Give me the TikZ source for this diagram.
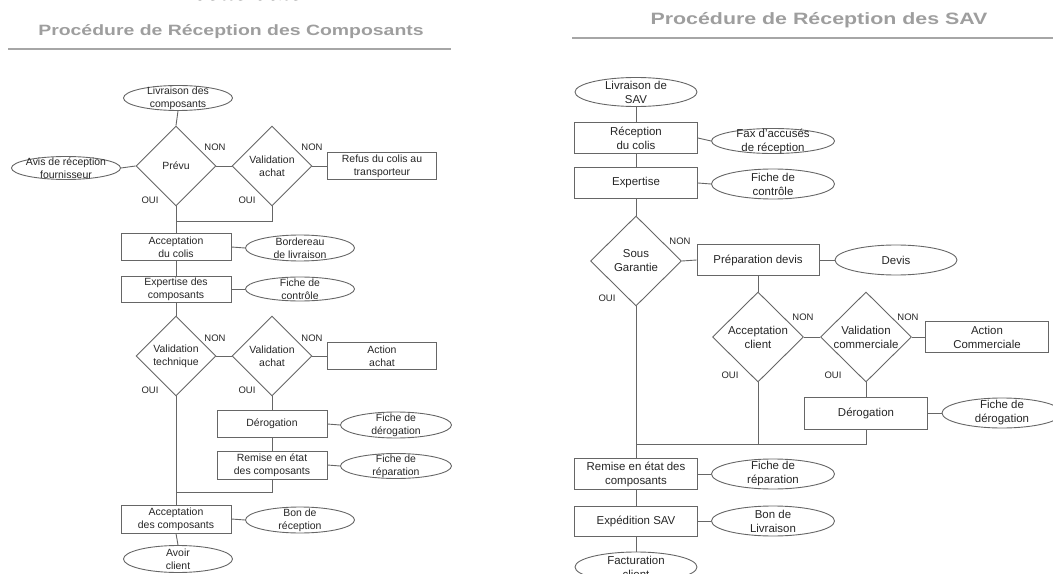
\documentclass[tikz,border=0pt]{standalone}
\usepackage{fontspec}
\setmainfont{Liberation Sans}
\usetikzlibrary{shapes.geometric}

\begin{document}
\begin{tikzpicture}[x=1bp, y=-1bp,
  every node/.style={font=\fontsize{10.5}{13}\selectfont, text=black!85, align=center, inner sep=0pt},
  lien/.style={draw=black!60, line width=0.9bp},
  boite/.style={rectangle, draw=black!60, line width=0.9bp, minimum width=110bp, minimum height=27bp},
  doc/.style={ellipse, draw=black!60, line width=0.9bp, minimum width=109bp, minimum height=25bp, label={center:#1}},
  choix/.style={diamond, draw=black!60, line width=0.9bp, minimum width=80bp, minimum height=80bp},
  rep/.style={font=\fontsize{9.5}{11}\selectfont},
  titre/.style={font=\bfseries\fontsize{15}{17}\selectfont, text=black!38, xscale=1.3, transform shape}]

  \useasboundingbox (0,0) rectangle (1053,574);

  \node[font=\fontsize{25}{28}\selectfont, text=black] (haut) at (255,-8) {cette date .};

  % composants
  \node[titre] (t1) at (231,32) {Procédure de Réception des Composants};
  \draw[black!35, line width=1.3bp] (8,49) -- (451,49);

  \node[doc={Livraison des\\composants}] (liv) at (178,98) {};
  \node[choix] (prevu) at (176,166) {Prévu};
  \node[doc={Avis de réception\\fournisseur}, minimum height=23bp] (avis) at (66,168) {};
  \node[choix] (valach) at (272,166) {Validation\\achat};
  \node[boite, minimum width=109bp] (refus) at (382,166) {Refus du colis au\\transporteur};
  \coordinate (j1) at (176,221);
  \node[boite] (acccolis) at (176,247) {Acceptation\\du colis};
  \node[doc={Bordereau\\de livraison}, minimum height=26bp] (bord) at (300,248) {};
  \node[boite, minimum height=26bp] (expcomp) at (176,289) {Expertise des\\composants};
  \node[doc={Fiche de\\contrôle}, minimum height=24bp] (fctrl) at (300,289) {};
  \node[choix] (valtech) at (176,356) {Validation\\technique};
  \node[choix] (valach2) at (272,356) {Validation\\achat};
  \node[boite, minimum width=109bp] (action) at (382,356) {Action\\achat};
  \node[boite] (derog) at (272,424) {Dérogation};
  \node[doc={Fiche de\\dérogation}, minimum width=111bp, minimum height=26bp] (fderog) at (396,425) {};
  \node[boite, minimum height=28bp] (remise) at (272,465) {Remise en état\\des composants};
  \node[doc={Fiche de\\réparation}, minimum width=111bp] (frep) at (396,466) {};
  \coordinate (j2) at (176,492);
  \node[boite, minimum height=28bp] (acccomp) at (176,519) {Acceptation\\des composants};
  \node[doc={Bon de\\réception}, minimum height=26bp] (bon) at (300,520) {};
  \node[doc={Avoir\\client}, minimum height=27bp] (avoir) at (178,559) {};

  \foreach \a/\b in {liv.south/prevu.north, avis.east/prevu.west, prevu.east/valach.west,
      valach.east/refus.west, prevu.south/acccolis.north, acccolis.east/bord.west,
      acccolis.south/expcomp.north, expcomp.east/fctrl.west, expcomp.south/valtech.north,
      valtech.east/valach2.west, valach2.east/action.west, valach2.south/derog.north,
      derog.east/fderog.west, derog.south/remise.north, remise.east/frep.west,
      valtech.south/acccomp.north, acccomp.east/bon.west, acccomp.south/avoir.north}
    \draw[lien] (\a) -- (\b);
  \draw[lien] (valach.south) |- (j1);
  \draw[lien] (remise.south) |- (j2);

  \foreach \x/\y/\t in {215/147/NON, 312/147/NON, 150/200/OUI, 247/200/OUI,
      215/338/NON, 312/338/NON, 150/390/OUI, 247/390/OUI}
    \node[rep] at (\x,\y) {\t};

  % SAV
  \begin{scope}[every node/.append style={font=\fontsize{11.5}{14}\selectfont},
      boite/.append style={minimum width=123bp, minimum height=31bp},
      doc/.append style={minimum width=123bp, minimum height=30bp},
      choix/.append style={minimum width=91bp, minimum height=90bp}]
  \node[titre, font=\bfseries\fontsize{16.5}{19}\selectfont] (t2) at (819,20) {Procédure de Réception des SAV};
  \draw[black!35, line width=1.3bp] (572,38) -- (1053,38);

  \node[doc={Livraison de\\SAV}, minimum width=122bp, minimum height=29bp] (livsav) at (636,92) {};
  \node[boite] (recep) at (636,138) {Réception\\du colis};
  \node[doc={Fax d'accusés\\de réception}, minimum height=25bp] (fax) at (773,141) {};
  \node[boite] (expert) at (636,183) {Expertise};
  \node[doc={Fiche de\\contrôle}] (fctrl2) at (773,184) {};
  \node[choix] (sous) at (636,261) {Sous\\Garantie};
  \node[boite, minimum width=122bp] (prep) at (758,260) {Préparation devis};
  \node[doc={Devis}, minimum width=122bp] (devis) at (896,260) {};
  \node[choix] (accli) at (758,337) {Acceptation\\client};
  \node[choix] (valcom) at (866,337) {Validation\\commerciale};
  \node[boite] (actcom) at (987,337) {Action\\Commerciale};
  \node[boite, minimum height=32bp] (derog2) at (866,413) {Dérogation};
  \node[doc={Fiche de\\dérogation}, minimum width=120bp] (fderog2) at (1002,413) {};
  \coordinate (j3) at (636,444);
  \node[boite] (remise2) at (636,474) {Remise en état des\\composants};
  \node[doc={Fiche de\\réparation}] (frep2) at (773,474) {};
  \node[boite, minimum height=30bp] (expsav) at (636,521) {Expédition SAV};
  \node[doc={Bon de\\Livraison}] (bonliv) at (773,521) {};
  \node[doc={Facturation\\client}, minimum width=122bp] (factu) at (636,567) {};

  \foreach \a/\b in {livsav.south/recep.north, recep.east/fax.west, recep.south/expert.north,
      expert.east/fctrl2.west, expert.south/sous.north, sous.east/prep.west,
      prep.east/devis.west, prep.south/accli.north, accli.east/valcom.west,
      valcom.east/actcom.west, valcom.south/derog2.north, derog2.east/fderog2.west,
      sous.south/remise2.north, remise2.east/frep2.west, remise2.south/expsav.north,
      expsav.east/bonliv.west, expsav.south/factu.north}
    \draw[lien] (\a) -- (\b);
  \draw[lien] (derog2.south) |- (j3);
  \draw[lien] (accli.south) -- (accli.south |- j3);

  \foreach \x/\y/\t in {680/241/NON, 607/298/OUI, 803/317/NON, 908/317/NON,
      730/375/OUI, 833/375/OUI}
    \node[rep] at (\x,\y) {\t};
  \end{scope}
\end{tikzpicture}
\end{document}
